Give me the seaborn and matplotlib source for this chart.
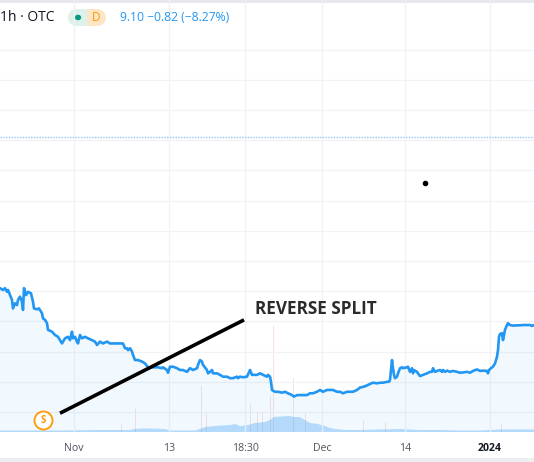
import numpy as np
import pandas as pd
import matplotlib
matplotlib.use("Agg")
import matplotlib.pyplot as plt
import seaborn as sns
from matplotlib.patches import FancyBboxPatch, Rectangle, Circle

# ---------------- data ----------------
bar_x = [0, 3, 5, 7, 8, 10, 12, 13, 15, 17, 18, 20, 22, 23, 24, 26, 28, 31, 33, 34,
         37, 39, 42, 43, 45, 47, 48, 52, 55, 58, 62, 65, 68, 70, 72, 73, 75, 77, 78, 80,
         82, 85, 88, 92, 95, 97, 100, 103, 107, 110, 115, 120, 123, 125, 127, 128, 130, 132, 133, 135,
         138, 142, 145, 148, 152, 155, 158, 162, 163, 167, 168, 170, 173, 177, 180, 183, 187, 190, 193, 197,
         198, 200, 202, 203, 207, 208, 210, 212, 213, 217, 220, 223, 227, 230, 233, 237, 238, 240, 243, 247,
         250, 252, 253, 257, 260, 263, 267, 268, 270, 271, 272, 275, 278, 282, 285, 288, 292, 294, 297, 300,
         303, 307, 310, 313, 317, 320, 323, 327, 330, 333, 337, 340, 343, 347, 350, 353, 357, 360, 363, 367,
         370, 373, 377, 380, 383, 387, 389, 390, 391, 392, 393, 394, 395, 397, 398, 400, 402, 403, 407, 408,
         410, 412, 413, 414, 417, 418, 420, 423, 427, 430, 432, 433, 435, 437, 440, 442, 443, 445, 447, 450,
         453, 457, 460, 463, 467, 470, 473, 477, 480, 483, 487, 488, 489, 492, 493, 495, 497, 498, 498.5, 499,
         500, 502, 503, 504, 505, 507, 508, 510, 513, 517, 520, 523, 527, 530, 532, 534]
price = [10.10, 10.04, 10.10, 9.98, 10.04, 9.87, 9.71, 9.43, 9.60, 9.54, 9.71, 9.82, 9.65, 9.38, 10.10, 9.87, 9.98, 9.93, 9.65, 9.43,
         9.40, 9.43, 9.27, 9.10, 9.05, 8.94, 8.72, 8.66, 8.55, 8.49, 8.27, 8.44, 8.49, 8.38, 8.66, 8.44, 8.49, 8.33, 8.27, 8.55,
         8.44, 8.49, 8.44, 8.38, 8.33, 8.22, 8.33, 8.27, 8.33, 8.27, 8.27, 8.27, 8.27, 8.11, 8.11, 8.05, 8.11, 8.00, 7.89, 7.72,
         7.72, 7.67, 7.61, 7.48, 7.48, 7.48, 7.48, 7.45, 7.48, 7.39, 7.30, 7.50, 7.50, 7.45, 7.39, 7.39, 7.33, 7.45, 7.39, 7.45,
         7.56, 7.72, 7.67, 7.56, 7.39, 7.28, 7.33, 7.39, 7.28, 7.28, 7.23, 7.17, 7.17, 7.12, 7.12, 7.17, 7.12, 7.17, 7.15, 7.17,
         7.39, 7.23, 7.23, 7.23, 7.28, 7.23, 7.17, 7.23, 7.17, 7.00, 6.73, 6.67, 6.67, 6.64, 6.67, 6.62, 6.56, 6.51, 6.56, 6.56,
         6.56, 6.56, 6.62, 6.62, 6.67, 6.73, 6.67, 6.73, 6.73, 6.73, 6.67, 6.67, 6.62, 6.67, 6.67, 6.67, 6.73, 6.81, 6.83, 6.88,
         6.93, 6.97, 6.95, 6.97, 6.97, 7.00, 7.00, 7.06, 7.39, 7.72, 7.45, 7.23, 7.12, 7.17, 7.28, 7.45, 7.48, 7.45, 7.48, 7.50,
         7.33, 7.45, 7.28, 7.39, 7.33, 7.28, 7.19, 7.23, 7.28, 7.33, 7.33, 7.45, 7.33, 7.36, 7.39, 7.33, 7.39, 7.33, 7.37, 7.33,
         7.36, 7.33, 7.30, 7.31, 7.33, 7.30, 7.36, 7.41, 7.36, 7.37, 7.36, 7.28, 7.39, 7.48, 7.50, 7.61, 7.83, 8.05, 8.27, 8.49,
         8.58, 8.61, 8.38, 8.55, 8.72, 8.88, 8.94, 8.88, 8.86, 8.87, 8.87, 8.88, 8.88, 8.88, 8.85, 8.88]

vol_x = [0, 20, 60, 100, 130, 135, 140, 150, 165, 170, 195, 200, 205, 215, 230, 235, 240, 248, 255, 265,
         270, 274, 280, 290, 293, 300, 305, 310, 318, 325, 330, 335, 345, 360, 380, 400, 410, 420, 440, 460,
         480, 490, 500, 534]
volume = [1.5, 1.5, 1.5, 2, 2, 3, 3.5, 3.5, 3, 1.5, 1.5, 3, 5, 6, 7, 8, 6, 7, 9, 10,
          12, 15, 15.5, 16, 15, 15, 12, 9, 8, 6, 4, 3, 2, 2, 2.5, 3, 2.5, 2, 2, 1.5,
          1.5, 2, 2.5, 2.5]
spike_x = [121, 135, 201, 206, 250, 257, 262, 270, 273, 293, 305, 363, 385, 501]
spike_v = [9, 24, 47, 19, 29, 20, 20, 37, 107, 54, 20, 12, 10, 9]

tick_pos = [74, 169, 245, 322, 405, 490]
tick_labels = ["Nov", "13", "18:30", "Dec", "14", "2024"]

header_left = "1h · OTC"
header_badge = "D"
header_quote = "9.10 −0.82 (−8.27%)"
annotation_text = "REVERSE SPLIT"
split_marker = "S"

# annotation anchors (data coordinates)
arrow_start = (60, 5.96)
arrow_end = (244, 9.05)
text_anchor = (255, 9.41)
split_pos = (43, 5.735)
dot_pos = (425, 13.58)
dotted_level = 15.11

# ---------------- style ----------------
W, H = 534, 462
sns.set_style("white")
plt.rcParams['font.family'] = ['Open Sans', 'DejaVu Sans']

fig = plt.figure(figsize=(W / 100, H / 100), dpi=100)
fig.patch.set_facecolor("white")

def fx(px):
    return px / W

def fy(py):
    return 1 - py / H

ax_bottom_px = 432
axv = fig.add_axes([0, fy(ax_bottom_px), 1, ax_bottom_px / H])
ax = fig.add_axes([0, fy(ax_bottom_px), 1, ax_bottom_px / H])
ax.set_zorder(axv.get_zorder() + 1)
ax.patch.set_visible(False)

ylo, yhi = 6 - 20 / 30.2, 6 + 412 / 30.2

# volume pane (behind price pane)
axv.set_xlim(0, W)
axv.set_ylim(0, ax_bottom_px)
for s in axv.spines.values():
    s.set_visible(False)
axv.set_xticks([])
axv.set_yticks([])
axv.fill_between(vol_x, volume, 0, color="#2196f3", alpha=0.30, linewidth=0, zorder=3)
axv.vlines(spike_x, 0, spike_v, color="#f3c9c7", linewidth=0.7, alpha=0.55, zorder=2)

# price pane
ax.set_xlim(0, W)
ax.set_ylim(ylo, yhi)
ax.set_yticks(np.arange(6, 19))
ax.set_xticks(tick_pos)
ax.set_xticklabels(tick_labels)
ax.grid(True, color="#f1f2f5", linewidth=0.9, zorder=0)
ax.set_axisbelow(True)
ax.tick_params(length=0, labelleft=False, pad=8, labelsize=7.6, labelcolor="#50535e")
for lab in ax.get_xticklabels():
    if lab.get_text() == "2024":
        lab.set_fontweight("bold")
        lab.set_color("#131722")
for s in ax.spines.values():
    s.set_visible(False)

df = pd.DataFrame({"bar": bar_x, "price": price})
ax.fill_between(df["bar"], df["price"], ylo, color="#2196f3", alpha=0.055, linewidth=0, zorder=1)
sns.lineplot(data=df, x="bar", y="price", ax=ax, color="#2196f3", linewidth=1.9,
             estimator=None, sort=False, zorder=4)
ax.set_xlabel("")
ax.set_ylabel("")

ax.axhline(dotted_level, color="#90c8f8", linewidth=1.0, linestyle=(0, (1, 1)), zorder=2)

# annotation
ax.plot([arrow_start[0], arrow_end[0]], [arrow_start[1], arrow_end[1]], color="black",
        linewidth=2.6, solid_capstyle="butt", zorder=6)
ax.text(text_anchor[0], text_anchor[1], annotation_text, fontsize=12.3, fontweight="bold",
        color="#2b2b2b", va="center", ha="left", zorder=6)
ax.plot([dot_pos[0]], [dot_pos[1]], marker="o", markersize=3, color="black", zorder=6)
ax.plot([split_pos[0]], [split_pos[1]], marker="o", markersize=13, markerfacecolor="white",
        markeredgecolor="#ff9800", markeredgewidth=1.3, zorder=6)
ax.text(split_pos[0], split_pos[1], split_marker, fontsize=7, color="#ff9800",
        ha="center", va="center", fontweight="bold", zorder=7)

# header
fig.text(fx(0), fy(17.5), header_left, fontsize=10, color="#131722", va="center", ha="left")
pill = FancyBboxPatch((fx(68), fy(26)), fx(38), 17 / H,
                      boxstyle="round,pad=0,rounding_size=0.018",
                      transform=fig.transFigure, facecolor="#fde6c6", edgecolor="none",
                      mutation_aspect=W / H)
fig.add_artist(pill)
left = Rectangle((fx(68), fy(26)), fx(19), 17 / H, transform=fig.transFigure,
                 facecolor="#def2ec", edgecolor="none")
fig.add_artist(left)
left.set_clip_path(pill)
fig.add_artist(Circle((fx(78), fy(17.5)), 3.2 / W, transform=fig.transFigure,
                      facecolor="#089981", edgecolor="none"))
fig.text(fx(96.5), fy(17.5), header_badge, fontsize=8.5, color="#ff9800", ha="center", va="center")
fig.text(fx(120), fy(17.5), header_quote, fontsize=8.7, color="#2196f3", ha="left", va="center")

# thin frame bands
fig.add_artist(Rectangle((0, fy(2.5)), 1, 2.5 / H, transform=fig.transFigure,
                         facecolor="#e6e8ee", edgecolor="none"))
fig.add_artist(Rectangle((0, 0), 1, 4 / H, transform=fig.transFigure,
                         facecolor="#eceef2", edgecolor="none"))

fig.savefig("out.png", dpi=100, facecolor="white")
